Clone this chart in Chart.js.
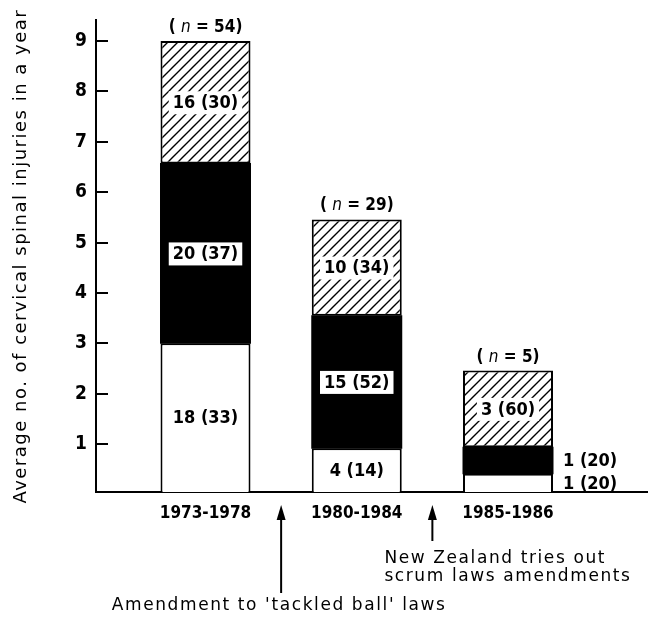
<!DOCTYPE html>
<html><head><meta charset="utf-8">
<script src="https://cdn.jsdelivr.net/npm/chart.js@4"></script>
<style>html,body{margin:0;padding:0;background:#fff}canvas{display:block}</style>
</head><body>
<canvas id="c" width="649" height="621"></canvas>
<script>
const categories = ['1973-1978', '1980-1984', '1985-1986'];
const totals = [54, 29, 5];
const whiteValues = [3.0, 0.92, 0.41];
const blackValues = [3.57, 2.63, 0.53];
const hatchValues = [2.43, 1.91, 1.52];
const whiteCounts = [18, 4, 1], whitePct = [33, 14, 20];
const blackCounts = [20, 15, 1], blackPct = [37, 52, 20];
const hatchCounts = [16, 10, 3], hatchPct = [30, 34, 60];
const yTicks = [1, 2, 3, 4, 5, 6, 7, 8, 9];
const yTitle = 'Average no. of cervical spinal injuries in a year';
const note1 = ["Amendment to 'tackled ball' laws"];
const note2 = ['New Zealand tries out', 'scrum laws amendments'];

const cv = document.getElementById('c');
const hatch = cv.getContext('2d').createPattern((() => {
  const c = document.createElement('canvas'); c.width = 10; c.height = 10;
  const g = c.getContext('2d');
  g.fillStyle = '#fff'; g.fillRect(0, 0, 10, 10);
  g.strokeStyle = '#000'; g.lineWidth = 1.4;
  g.beginPath();
  g.moveTo(-1, 11); g.lineTo(11, -1);
  g.moveTo(-6, 6); g.lineTo(6, -6);
  g.moveTo(4, 16); g.lineTo(16, 4);
  g.stroke();
  return c;
})(), 'repeat');

const COND = '"DejaVu Sans Condensed", "Liberation Sans Narrow", "DejaVu Sans"';

const spacingPlugin = {
  id: 'spacing',
  beforeDraw(chart) { chart.ctx.letterSpacing = '1.5px'; },
  beforeDatasetsDraw(chart) { chart.ctx.letterSpacing = '0px'; }
};

const labelPlugin = {
  id: 'labels',
  afterDraw(chart) {
    const ctx = chart.ctx, ys = chart.scales.y, xs = chart.scales.x, ca = chart.chartArea;
    ctx.save();
    ctx.letterSpacing = '0px';
    // inward tick marks
    ctx.strokeStyle = '#000'; ctx.lineWidth = 2;
    ys.ticks.forEach(t => {
      const y = Math.round(ys.getPixelForValue(t.value));
      ctx.beginPath(); ctx.moveTo(ca.left, y); ctx.lineTo(ca.left + 12, y); ctx.stroke();
    });
    // segment labels
    const sets = [[whiteCounts, whitePct], [blackCounts, blackPct], [hatchCounts, hatchPct]];
    ctx.font = 'bold 18px ' + COND;
    ctx.textBaseline = 'middle';
    sets.forEach((s, di) => {
      const meta = chart.getDatasetMeta(di);
      meta.data.forEach((el, i) => {
        const txt = s[0][i] + ' (' + s[1][i] + ')';
        const top = Math.max(el.y, ca.top), bot = Math.min(el.base, ca.bottom);
        const h = bot - top, cy = (top + bot) / 2;
        if (h < 32) {
          ctx.textAlign = 'left'; ctx.fillStyle = '#000';
          ctx.fillText(txt, el.x + el.width / 2 + 10, cy + 1);
        } else {
          const w = ctx.measureText(txt).width;
          if (di > 0) { ctx.fillStyle = '#fff'; ctx.fillRect(el.x - w / 2 - 4, cy - 11, w + 8, 23); }
          ctx.fillStyle = '#000'; ctx.textAlign = 'center';
          ctx.fillText(txt, el.x, cy + 1);
        }
      });
    });
    // (n = X) labels
    ctx.textBaseline = 'alphabetic'; ctx.textAlign = 'left';
    chart.getDatasetMeta(2).data.forEach((el, i) => {
      const parts = [['( ', 'bold 17px '], ['n', 'italic 17px '], [' = ' + totals[i] + ')', 'bold 17px ']];
      let tw = 0;
      parts.forEach(p => { ctx.font = p[1] + COND; tw += ctx.measureText(p[0]).width; });
      let x = el.x - tw / 2;
      parts.forEach(p => { ctx.font = p[1] + COND; ctx.fillText(p[0], x, el.y - 9); x += ctx.measureText(p[0]).width; });
    });
    // arrows and notes
    const arrow = (x, tip, tail) => {
      ctx.strokeStyle = '#000'; ctx.fillStyle = '#000'; ctx.lineWidth = 2;
      ctx.beginPath(); ctx.moveTo(x, tail); ctx.lineTo(x, tip + 10); ctx.stroke();
      ctx.beginPath(); ctx.moveTo(x, tip); ctx.lineTo(x - 4.5, tip + 15); ctx.lineTo(x + 4.5, tip + 15); ctx.closePath(); ctx.fill();
    };
    const ax1 = xs.getPixelForValue(1.5), ax2 = xs.getPixelForValue(2.5);
    arrow(ax1, 505, 593);
    arrow(ax2, 505, 541);
    ctx.font = '17px "DejaVu Sans"';
    ctx.letterSpacing = '1.6px';
    ctx.fillStyle = '#000';
    ctx.textAlign = 'center';
    note1.forEach((t, k) => ctx.fillText(t, ax1 - 2, 610 + k * 18));
    ctx.textAlign = 'left';
    note2.forEach((t, k) => ctx.fillText(t, ax2 - 48, 563 + k * 18));
    ctx.restore();
  }
};

const pts = arr => arr.map((v, i) => ({ x: i + 1, y: v }));

new Chart(cv, {
  type: 'bar',
  data: {
    datasets: [
      { label: 'white', data: pts(whiteValues), backgroundColor: '#fff', borderColor: '#000', borderWidth: 2, borderSkipped: false },
      { label: 'black', data: pts(blackValues), backgroundColor: '#000', borderColor: '#000', borderWidth: 0, inflateAmount: 0.5 },
      { label: 'hatched', data: pts(hatchValues), backgroundColor: hatch, borderColor: '#000', borderWidth: 2, borderSkipped: false }
    ]
  },
  options: {
    responsive: false,
    devicePixelRatio: 1,
    animation: false,
    barPercentage: 0.595,
    categoryPercentage: 1,
    layout: { padding: { top: 20, right: 2, bottom: 0, left: 0 } },
    plugins: { legend: { display: false }, tooltip: { enabled: false } },
    scales: {
      x: {
        type: 'linear', min: 0.276, max: 3.919, offset: false, stacked: true,
        grid: { display: false, drawTicks: false },
        border: { display: true, color: '#000', width: 2 },
        afterBuildTicks: s => { s.ticks = categories.map((c, i) => ({ value: i + 1 })); },
        ticks: {
          callback: (v, i) => categories[i], z: 1,
          font: { family: COND, weight: 'bold', size: 17 }, color: '#000',
          padding: 11, maxRotation: 0, autoSkip: false
        },
        afterFit: s => { s.height = 129; }
      },
      y: {
        min: 0.05, max: 9.41, stacked: true,
        grid: { display: false, drawTicks: false },
        border: { display: true, color: '#000', width: 2 },
        afterBuildTicks: s => { s.ticks = yTicks.map(v => ({ value: v })); },
        ticks: { z: 1, font: { family: COND, weight: 'bold', size: 19 }, color: '#000', padding: 9 },
        title: { display: true, text: yTitle, font: { family: 'DejaVu Sans', size: 18 }, color: '#000', padding: { top: 11, bottom: 0 } },
        afterFit: s => { s.width = 96; }
      }
    }
  },
  plugins: [spacingPlugin, labelPlugin]
});
</script>
</body></html>
